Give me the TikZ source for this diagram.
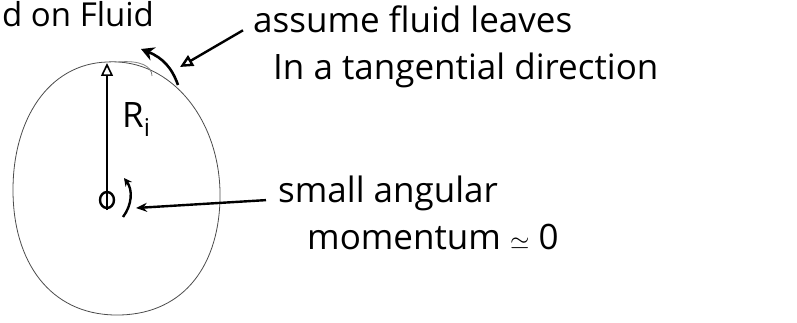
\documentclass[tikz,border=0pt]{standalone}
\usepackage{fontspec}
\setmainfont{Open Sans}
\usetikzlibrary{arrows.meta,positioning}

\begin{document}
\begin{tikzpicture}[x=1pt, y=-1pt,
  note/.style={font=\fontsize{35}{36}\selectfont, inner sep=0pt, anchor=north west},
  arr/.style={-{Triangle[open, length=13pt, width=12pt]}, line width=2.4pt},
  pen/.style={line width=2.4pt},
  rim/.style={draw=black!70, line width=0.8pt}]
\useasboundingbox (0,0) rectangle (797,323);
\node[note, anchor=base west, font=\fontsize{33}{33}\selectfont] (head) at (2,27) {d on Fluid};
% rim of the impeller
\draw[rim] (107,62) .. controls (172,58) and (222,122) .. (220,200)
  .. controls (218,270) and (180,316) .. (115,315)
  .. controls (50,314) and (13,262) .. (13,190)
  .. controls (13,120) and (48,64) .. (107,62);
\draw[rim, draw=black!50] (118,62) .. controls (140,60) and (152,66) .. (152,76);
\coordinate (ctr) at (107,200);
\coordinate (top) at (107,63);
\coordinate (spin) at (136,208);
\coordinate (exit) at (180,67);
% radius and swirl
\draw[arr, line width=1.6pt] ([yshift=-10pt]ctr) -- (top);
\node[note] (rad) at (122,102) {R\textsubscript{i}};
\draw[pen] (ctr) ellipse [x radius=7, y radius=8];
\draw[pen, -{Stealth[length=8pt, width=8pt]}] (123,217) .. controls (132,205) and (133,190) .. (124,178);
% fluid leaving tangentially
\draw[pen, line width=2.6pt, -{Stealth[length=13pt, width=14pt]}] (178,85) .. controls (172,68) and (163,58) .. (141,49);
% notes
\node[note] (lv1) at (253,6) {assume fluid leaves};
\node[note] (lv2) at (273,53) {In a tangential direction};
\node[note] (mom1) at (278,176) {small angular};
\node[note] (mom2) at (307,224) {momentum $\simeq$ 0};
\draw[arr] ([xshift=-10pt]lv1.mid west) -- (exit);
\draw[pen, -{Stealth[length=11pt, width=9pt]}] ([xshift=-12pt]mom1.mid west) -- (spin);
\end{tikzpicture}
\end{document}
